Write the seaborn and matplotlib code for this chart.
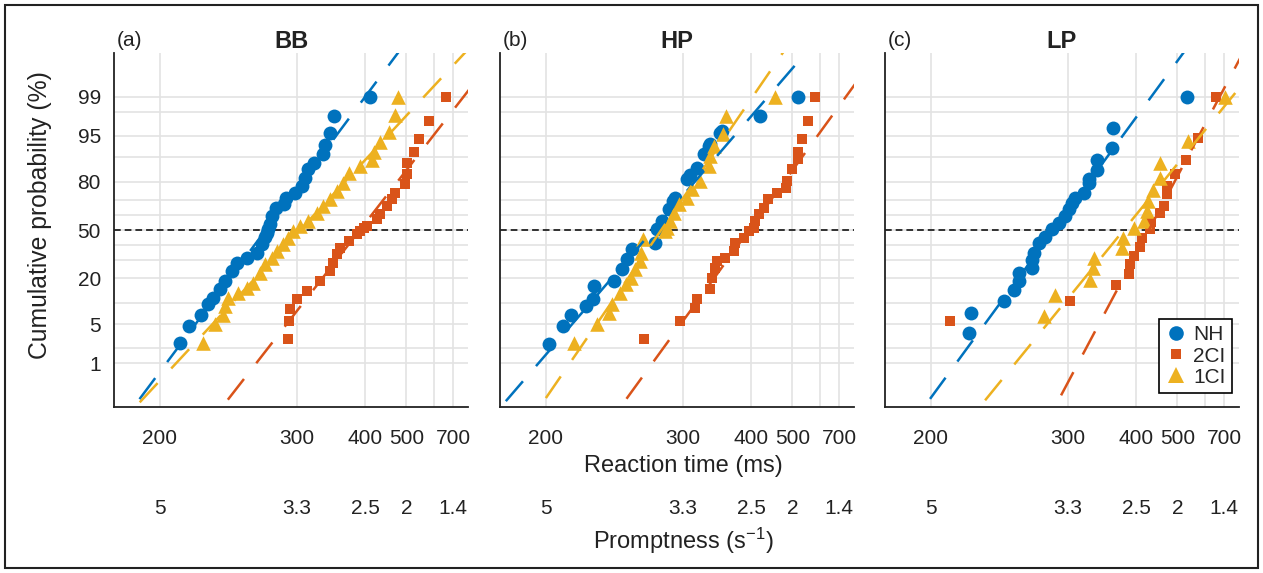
import numpy as np
import pandas as pd
import matplotlib
matplotlib.use("Agg")
import matplotlib.pyplot as plt
import matplotlib.transforms as mtransforms
import seaborn as sns
from statistics import NormalDist
from matplotlib.lines import Line2D
from matplotlib.patches import Rectangle
from matplotlib.ticker import FixedLocator

# ---------------- data ----------------
panels = ["BB", "HP", "LP"]
panel_tags = ["(a)", "(b)", "(c)"]
groups = ["NH", "2CI", "1CI"]

# BB
bb_nh_rt = [210.6, 215.4, 222.6, 226.7, 229.9, 234.3, 237.7, 242.4, 246.0, 253.6, 261.7, 266.0,
            268.8, 270.3, 271.8, 273.3, 274.9, 278.9, 286.7, 288.8, 298.1, 305.6, 309.4, 313.4,
            320.3, 332.5, 334.7, 341.6, 347.5, 408.7]
bb_nh_p = [2.4, 4.7, 7.0, 9.7, 11.9, 15.0, 18.6, 23.7, 28.4, 31.5, 34.6, 40.1,
           45.0, 48.0, 51.0, 54.0, 59.7, 64.8, 67.3, 71.4, 74.3, 78.0, 82.0, 85.6,
           88.0, 90.7, 93.1, 95.4, 97.7, 99.0]
bb_2ci_rt = [291.1, 292.1, 292.8, 300.0, 311.4, 328.0, 341.6, 346.5, 351.4, 356.5, 370.0, 384.3,
             390.5, 396.8, 403.2, 424.0, 431.6, 447.2, 459.8, 468.6, 497.0, 502.0, 503.0, 525.8,
             540.5, 578.7, 661.4]
bb_2ci_p = [2.8, 5.7, 8.5, 11.3, 14.3, 18.6, 23.7, 28.4, 33.6, 37.9, 42.4, 47.0,
            49.2, 51.6, 52.8, 57.4, 60.8, 66.3, 70.4, 74.3, 78.8, 83.5, 88.0, 91.2,
            94.4, 97.2, 99.0]
bb_1ci_rt = [223.6, 231.0, 236.5, 237.7, 240.0, 247.2, 253.6, 258.9, 264.6, 268.8, 274.9, 279.6,
             286.0, 291.1, 296.4, 303.7, 313.4, 323.7, 332.4, 341.6, 351.4, 360.8, 370.0, 390.5,
             413.4, 417.0, 431.6, 451.5, 468.6, 474.8]
bb_1ci_p = [2.45, 5.0, 7.0, 9.2, 11.9, 13.7, 15.7, 17.9, 22.8, 27.4, 31.5, 35.7,
            40.1, 44.7, 49.5, 52.8, 56.2, 61.9, 66.3, 70.4, 75.2, 79.6, 84.2, 86.8,
            88.9, 91.2, 93.7, 95.6, 97.8, 99.0]
# HP
hp_nh_rt = [201.6, 208.9, 212.9, 221.5, 226.1, 226.6, 240.2, 245.8, 249.4, 253.3, 272.9, 274.3,
            279.0, 285.5, 289.9, 292.2, 304.9, 308.6, 316.6, 324.8, 331.3, 333.6, 347.7, 350.1,
            416.8, 517.0]
hp_nh_p = [2.3, 4.7, 7.0, 9.2, 11.5, 16.4, 18.6, 24.6, 30.4, 36.8, 41.3, 50.4,
           56.2, 64.1, 69.4, 71.4, 81.2, 83.0, 86.2, 90.7, 92.9, 93.3, 95.5, 95.8,
           97.7, 99.0]
hp_2ci_rt = [262.7, 297.4, 314.5, 316.6, 333.6, 335.9, 340.5, 342.8, 355.1, 368.5, 371.2, 385.7,
             395.0, 404.5, 408.0, 414.8, 425.5, 436.7, 456.8, 481.9, 483.8, 498.5, 519.2, 519.2,
             530.5, 554.3, 580.4]
hp_2ci_p = [2.8, 5.6, 8.7, 11.3, 15.0, 20.2, 25.5, 29.4, 31.5, 35.7, 41.3, 44.7,
            49.6, 51.6, 56.2, 60.8, 65.2, 70.4, 74.3, 77.0, 80.6, 85.6, 89.2, 91.2,
            94.4, 97.2, 99.0]
hp_1ci_rt = [214.8, 228.7, 236.3, 238.6, 244.5, 248.2, 252.0, 255.9, 259.9, 260.5, 262.0, 282.2,
             283.9, 287.1, 290.4, 295.7, 304.8, 310.6, 320.6, 331.3, 333.6, 338.2, 351.6, 356.8,
             452.7]
hp_1ci_p = [2.45, 5.0, 7.4, 9.7, 13.7, 17.1, 20.2, 24.6, 29.4, 34.6, 43.5, 49.3,
            51.6, 56.2, 61.9, 67.3, 71.4, 76.2, 80.6, 86.8, 90.2, 92.8, 95.3, 97.7,
            99.0]
# LP
lp_nh_rt = [220.5, 221.5, 243.3, 250.7, 254.6, 255.1, 265.0, 265.5, 267.0, 271.3, 277.4, 283.8,
            290.5, 297.5, 301.8, 304.9, 308.6, 318.5, 324.8, 325.7, 335.9, 335.9, 357.8, 359.3,
            532.8]
lp_nh_p = [3.6, 7.4, 10.9, 14.7, 18.6, 22.4, 25.5, 30.0, 34.6, 40.8, 45.3, 50.5,
           55.1, 59.7, 64.1, 68.4, 71.4, 74.3, 79.6, 81.5, 85.3, 88.8, 92.3, 96.3,
           99.0]
lp_2ci_rt = [209.9, 302.2, 364.6, 385.7, 387.4, 395.0, 406.5, 411.4, 429.0, 431.4, 452.7, 463.0,
             469.9, 471.7, 493.3, 528.3, 573.7, 654.0]
lp_2ci_p = [5.6, 10.9, 16.7, 22.3, 27.8, 32.5, 38.3, 44.7, 50.4, 55.6, 61.9, 66.3,
            73.4, 78.0, 83.5, 88.9, 94.6, 99.0]
lp_1ci_rt = [275.9, 287.1, 326.2, 330.5, 332.2, 374.0, 375.7, 395.0, 414.8, 421.9, 425.3, 436.7,
             452.7, 452.7, 536.2, 704.2]
lp_1ci_p = [6.6, 13.0, 19.0, 25.5, 31.5, 37.9, 44.7, 51.6, 56.2, 63.0, 69.4, 75.6,
            82.0, 88.0, 94.0, 99.0]

# fitted LATER lines: mean and SD of promptness (1/s), order NH, 2CI, 1CI
fit_mu = {"BB": [3.71, 2.565, 3.293], "HP": [3.692, 2.526, 3.595], "LP": [3.504, 2.346, 2.652]}
fit_sd = {"BB": [0.52, 0.542, 0.648], "HP": [0.60, 0.506, 0.478], "LP": [0.51, 0.37, 0.567]}

rt_ticks = [200, 300, 400, 500, 600, 700]
rt_ticklabels = ["200", "300", "400", "500", "", "700"]
prompt_ticks = [200, 300, 400, 500, 700]
prompt_labels = ["5", "3.3", "2.5", "2", "1.4"]
prob_grid = [1, 2, 5, 10, 20, 30, 40, 50, 60, 70, 80, 90, 95, 98, 99]
prob_labeled = [1, 5, 20, 50, 80, 95, 99]

series = {
    ("BB", "NH"): (bb_nh_rt, bb_nh_p), ("BB", "2CI"): (bb_2ci_rt, bb_2ci_p), ("BB", "1CI"): (bb_1ci_rt, bb_1ci_p),
    ("HP", "NH"): (hp_nh_rt, hp_nh_p), ("HP", "2CI"): (hp_2ci_rt, hp_2ci_p), ("HP", "1CI"): (hp_1ci_rt, hp_1ci_p),
    ("LP", "NH"): (lp_nh_rt, lp_nh_p), ("LP", "2CI"): (lp_2ci_rt, lp_2ci_p), ("LP", "1CI"): (lp_1ci_rt, lp_1ci_p),
}
rows = []
for (pn, g), (rts, ps) in series.items():
    for r, p in zip(rts, ps):
        rows.append({"panel": pn, "group": g, "rt": r, "p": p})
df = pd.DataFrame(rows)

# ---------------- style ----------------
sns.set_theme(style="white")
plt.rcParams["font.family"] = ["Liberation Sans", "DejaVu Sans"]
plt.rcParams["axes.unicode_minus"] = False
plt.rcParams["mathtext.default"] = "regular"

colors = {"NH": "#0072BD", "2CI": "#D95319", "1CI": "#EDB120"}
markers = {"NH": "o", "2CI": "s", "1CI": "^"}
msize = {"NH": 100, "2CI": 50, "1CI": 110}
txt = "#222222"

ND = NormalDist()
_inv = np.vectorize(ND.inv_cdf, otypes=[float])
_cdf = np.vectorize(ND.cdf, otypes=[float])


def probit(p):
    q = np.clip(np.asarray(p, dtype=float) / 100.0, 1e-12, 1 - 1e-12)
    return _inv(q)


def iprobit(z):
    return _cdf(np.asarray(z, dtype=float)) * 100.0


def recip(x):
    x = np.asarray(x, dtype=float)
    with np.errstate(divide="ignore", invalid="ignore"):
        return -1000.0 / x


W, H = 1263, 573
fig = plt.figure(figsize=(W / 100, H / 100), dpi=100)
ax_left = [114, 500, 885]
ax_top, ax_size = 53, 354

minor_y = iprobit(np.arange(-3.0, 3.01, 0.125))
minor_x = [182, 214.3, 230.8, 250, 272.7, 320, 340, 360, 380, 420, 440, 460, 480, 550, 650, 750]

for i, pn in enumerate(panels):
    ax = fig.add_axes([ax_left[i] / W, 1 - (ax_top + ax_size) / H, ax_size / W, ax_size / H])
    ax.set_xscale("function", functions=(recip, recip))
    ax.set_yscale("function", functions=(probit, iprobit))

    sub = df[df.panel == pn]
    for g in groups:
        sns.scatterplot(data=sub[sub.group == g], x="rt", y="p", color=colors[g],
                        marker=markers[g], s=msize[g], linewidth=0, ax=ax,
                        legend=False, zorder=3)
    for k, g in enumerate(groups):
        mu, sd = fit_mu[pn][k], fit_sd[pn][k]
        zz = np.array([-3.6, 3.6])
        rr = 1000.0 / (mu - zz * sd)
        ax.plot(rr, iprobit(zz), color=colors[g], lw=1.8,
                linestyle=(0, (10.5, 8)), zorder=4)

    ax.axhline(50, color="black", lw=1.1, linestyle=(0, (4.4, 2.6)), zorder=2)

    ax.set_xlim(180, 800)
    ax.set_ylim(0.1, 99.9)
    ax.xaxis.set_major_locator(FixedLocator(rt_ticks))
    ax.set_xticklabels(rt_ticklabels)
    ax.xaxis.set_minor_locator(FixedLocator(minor_x))
    ax.yaxis.set_major_locator(FixedLocator(prob_grid))
    ax.set_yticklabels([str(v) if (v in prob_labeled and i == 0) else "" for v in prob_grid])
    ax.yaxis.set_minor_locator(FixedLocator(minor_y))
    ax.grid(True, which="major", color="#e3e3e3", lw=1.2, zorder=0)
    ax.set_axisbelow(True)
    ax.set_xlabel("")
    ax.set_ylabel("")
    for s in ["top", "right"]:
        ax.spines[s].set_visible(False)
    for s in ["left", "bottom"]:
        ax.spines[s].set_color(txt)
        ax.spines[s].set_linewidth(1.3)
    ax.tick_params(axis="both", which="major", direction="out", length=6.5, width=0.9,
                   color=txt, labelsize=15, labelcolor=txt)
    ax.tick_params(axis="both", which="minor", direction="out", length=3.6, width=0.9,
                   color=txt)
    ax.tick_params(axis="x", which="major", pad=9)
    ax.tick_params(axis="y", which="major", pad=3)

    # promptness labels under the reaction-time labels
    btf = mtransforms.blended_transform_factory(ax.transData, ax.transAxes)
    for xt, lab in zip(prompt_ticks, prompt_labels):
        ax.text(xt, -0.287, lab, transform=btf, ha="center", va="center",
                fontsize=15, color=txt)

    ax.text(0.5, 1 + 11 / ax_size, pn, transform=ax.transAxes, ha="center", va="center",
            fontsize=17, fontweight="bold", color=txt)
    ax.text(0.008, 1 + 13 / ax_size, panel_tags[i], transform=ax.transAxes, ha="left",
            va="center", fontsize=15, color=txt)

    if pn == "LP":
        handles = [Line2D([], [], marker=markers[g], color=colors[g], linestyle="none",
                          markersize=np.sqrt(msize[g]) * 1.05, markeredgewidth=0) for g in groups]
        leg = ax.legend(handles, groups, loc="lower right", bbox_to_anchor=(0.98, 0.04),
                        frameon=True, fancybox=False, edgecolor="black", framealpha=1,
                        fontsize=15, handlelength=1.0, handletextpad=0.35, borderpad=0.3,
                        labelspacing=0.1, borderaxespad=0)
        leg.get_frame().set_linewidth(1.2)

fig.text(40 / W, 1 - 215 / H, "Cumulative probability (%)", rotation=90, ha="center",
         va="center", fontsize=17.8, color=txt)
fig.text(683 / W, 1 - 466 / H, "Reaction time (ms)", ha="center", va="center",
         fontsize=17, color=txt)
fig.text(683 / W, 1 - 541 / H, "Promptness (s$^{-1}$)", ha="center", va="center",
         fontsize=17, color=txt)

fig.patches.append(Rectangle((5 / W, 5 / H), 1 - 10 / W, 1 - 10 / H, transform=fig.transFigure,
                             fill=False, edgecolor=txt, lw=1.5))

fig.savefig("out.png", dpi=100)
